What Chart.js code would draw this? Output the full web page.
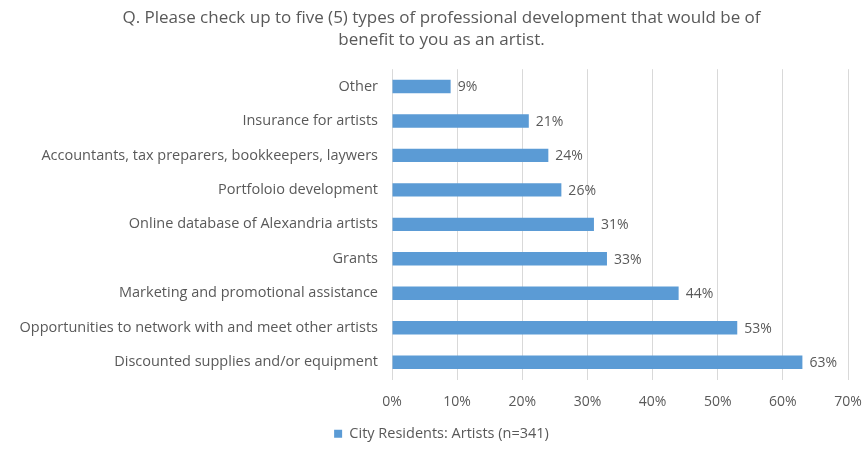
<!DOCTYPE html>
<html>
<head>
<meta charset="utf-8">
<script src="https://cdn.jsdelivr.net/npm/chart.js@4"></script>
<style>
  html, body { margin: 0; padding: 0; background: #fff; }
  #wrap { width: 865px; height: 451px; }
</style>
</head>
<body>
<div id="wrap"><canvas id="barChart" width="865" height="451"></canvas></div>
<script>
const categories = [
  "Other",
  "Insurance for artists",
  "Accountants, tax preparers, bookkeepers, laywers",
  "Portfoloio development",
  "Online database of Alexandria artists",
  "Grants",
  "Marketing and promotional assistance",
  "Opportunities to network with and meet other artists",
  "Discounted supplies and/or equipment"
];
const artists = [9, 21, 24, 26, 31, 33, 44, 53, 63];
const xTicks = [0, 10, 20, 30, 40, 50, 60, 70];
const seriesName = "City Residents: Artists (n=341)";
const titleLines = [
  "Q. Please check up to five (5) types of professional development that would be of",
  "benefit to you as an artist."
];

const FONT = "'Open Sans', sans-serif";
const GREY = "#595959";

// draws the "63%" style labels at the end of each bar
const barLabels = {
  id: "barLabels",
  afterDatasetsDraw(chart) {
    const ctx = chart.ctx;
    const meta = chart.getDatasetMeta(0);
    ctx.save();
    ctx.font = "14px " + FONT;
    ctx.fillStyle = GREY;
    ctx.textBaseline = "middle";
    ctx.textAlign = "left";
    meta.data.forEach(function(bar, i) {
      ctx.fillText(artists[i] + "%", bar.x + 7, bar.y + 1);
    });
    ctx.restore();
  }
};

const barChart = document.getElementById("barChart").getContext("2d");
let bChart = new Chart(barChart, {
  type: "bar",
  data: {
    labels: categories,
    datasets: [
      {
        label: seriesName,
        data: artists,
        backgroundColor: "#5B9BD5",
        borderWidth: 0,
        categoryPercentage: 1,
        barPercentage: 0.39
      }
    ]
  },
  options: {
    indexAxis: "y",
    responsive: false,
    animation: false,
    layout: {
      padding: { left: 18, right: 0, top: 0, bottom: 0 }
    },
    scales: {
      x: {
        min: 0,
        max: 70,
        afterBuildTicks: function(axis) {
          axis.ticks = xTicks.map(function(v) { return { value: v }; });
        },
        ticks: {
          color: GREY,
          font: { family: FONT, size: 14 },
          padding: 14,
          callback: function(v) { return v + "%"; }
        },
        grid: { color: "#D9D9D9", drawTicks: false },
        border: { display: false },
        afterFit: function(axis) {
          axis.height = 37;
          axis.paddingLeft = 0;
          axis.paddingRight = 17;
        }
      },
      y: {
        ticks: {
          color: GREY,
          font: { family: FONT, size: 14.5 },
          padding: 6
        },
        grid: { display: false },
        border: { display: false },
        afterFit: function(axis) { axis.width = 374; }
      }
    },
    plugins: {
      title: {
        display: true,
        text: titleLines,
        color: GREY,
        font: { family: FONT, size: 17, weight: "normal", lineHeight: 1.3 },
        padding: { top: 7, bottom: 18 }
      },
      legend: {
        position: "bottom",
        labels: {
          color: GREY,
          font: { family: FONT, size: 14.5 },
          boxWidth: 8,
          boxHeight: 8,
          padding: 10
        }
      },
      tooltip: { enabled: false }
    }
  },
  plugins: [barLabels]
});
</script>
</body>
</html>
